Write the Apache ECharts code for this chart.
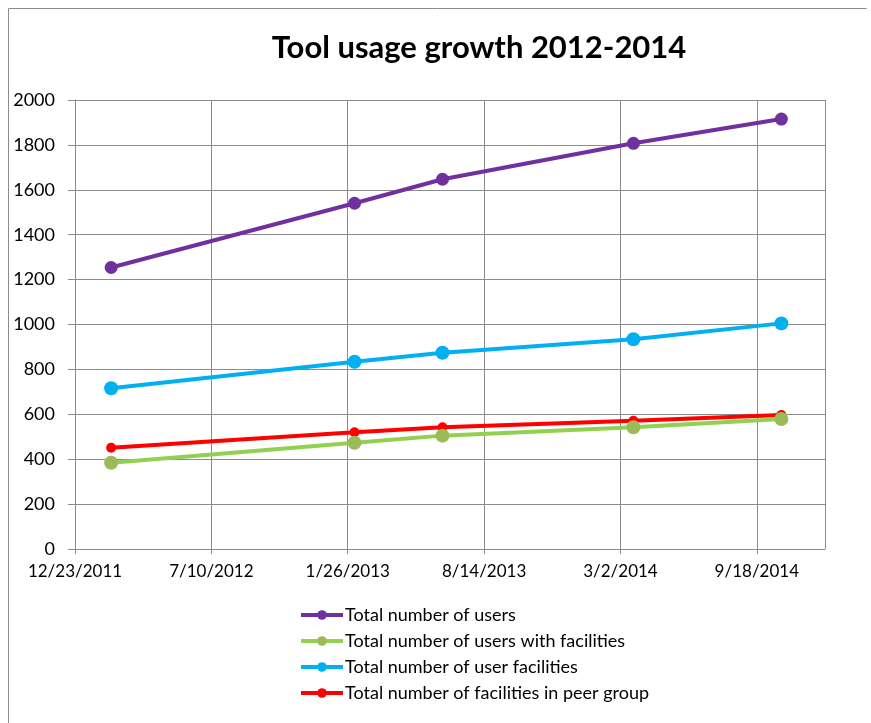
<!DOCTYPE html>
<html>
<head>
<meta charset="utf-8">
<script src="https://cdn.jsdelivr.net/npm/echarts@6/dist/echarts.min.js"></script>
<style>
html,body{margin:0;padding:0;background:#fff;}
#c{width:871px;height:723px;}
</style>
</head>
<body>
<div id="c"></div>
<script>
// ---- data ----
var title = 'Tool usage growth 2012-2014';
var axisStartDate = '2011-12-23';
var dates = ['2012-02-14', '2013-02-05', '2013-06-14', '2014-03-21', '2014-10-24'];
var seriesNames = [
  'Total number of users',
  'Total number of users with facilities',
  'Total number of user facilities',
  'Total number of facilities in peer group'
];
var totalUsers = [1254, 1540, 1647, 1807, 1915];
var usersWithFacilities = [384, 473, 505, 542, 579];
var userFacilities = [716, 834, 874, 934, 1005];
var facilitiesPeerGroup = [451, 520, 542, 571, 597];
var yTicks = { min: 0, max: 2000, interval: 200 };
var xTicksDays = { min: 0, max: 1100, interval: 200 };

// ---- helpers ----
var DAY = 86400000;
function toMs(s){ var p = s.split('-'); return Date.UTC(+p[0], +p[1]-1, +p[2]); }
var baseMs = toMs(axisStartDate);
function dayOffset(s){ return Math.round((toMs(s) - baseMs) / DAY); }
function fmtDate(off){
  var d = new Date(baseMs + off * DAY);
  return (d.getUTCMonth()+1) + '/' + d.getUTCDate() + '/' + d.getUTCFullYear();
}
function pairs(vals){ return dates.map(function(d,i){ return [dayOffset(d), vals[i]]; }); }

var FONT = 'Lato, "Open Sans", sans-serif';
var GRID = '#8c8c8c';

var styles = [
  {line:'#7030A0', marker:'#7030A0', size:13},
  {line:'#92D050', marker:'#9BBB59', size:14},
  {line:'#00B0F0', marker:'#00B0F0', size:14},
  {line:'#FF0000', marker:'#FF0000', size:10}
];
var values = [totalUsers, usersWithFacilities, userFacilities, facilitiesPeerGroup];

var series = values.map(function(v, i){
  return {
    name: seriesNames[i],
    type: 'line',
    data: pairs(v),
    symbol: 'circle',
    symbolSize: styles[i].size,
    lineStyle: {color: styles[i].line, width: 4},
    itemStyle: {color: styles[i].marker},
    emphasis: {disabled: true},
    z: 10 - i
  };
});

var chart = echarts.init(document.getElementById('c'), null, {renderer:'canvas'});
chart.setOption({
  animation: false,
  backgroundColor: '#fff',
  title: {
    text: title,
    left: 474, top: 27, textAlign: 'center',
    textStyle: {fontFamily: FONT, fontWeight: 'bold', fontSize: 31, color: '#000'}
  },
  graphic: [
    {type:'line', shape:{x1:8.5,y1:8.5,x2:866.5,y2:8.5}, style:{stroke:'#8c8c8c', lineWidth:1}},
    {type:'line', shape:{x1:8.5,y1:8.5,x2:8.5,y2:723}, style:{stroke:'#8c8c8c', lineWidth:1}}
  ],
  grid: {left: 75, top: 100, right: 46, bottom: 174, containLabel: false},
  legend: {
    orient: 'vertical',
    left: 294, top: 601,
    itemWidth: 42, itemHeight: 12,
    itemGap: 8,
    data: seriesNames.map(function(n, i){
      return {name: n, lineStyle: {color: styles[i].line, width: 4}, itemStyle: {color: styles[i].marker}};
    }),
    textStyle: {fontFamily: FONT, fontSize: 18, color: '#000', padding: [0,0,0,-3]},
    selectedMode: false
  },
  xAxis: {
    type: 'value',
    min: xTicksDays.min, max: xTicksDays.max, interval: xTicksDays.interval,
    axisLine: {show: true, onZero: false, lineStyle: {color: GRID, width: 1}},
    axisTick: {show: true, length: 5, lineStyle: {color: GRID}},
    splitLine: {show: true, lineStyle: {color: GRID, width: 1}},
    axisLabel: {
      fontFamily: FONT, fontSize: 17, color: '#000', margin: 14,
      showMaxLabel: false,
      formatter: function(v){ return v >= xTicksDays.max ? '' : fmtDate(v); }
    }
  },
  yAxis: {
    type: 'value',
    min: yTicks.min, max: yTicks.max, interval: yTicks.interval,
    axisLine: {show: true, lineStyle: {color: GRID, width: 1}},
    axisTick: {show: true, length: 7, lineStyle: {color: GRID}},
    splitLine: {show: true, lineStyle: {color: GRID, width: 1}},
    axisLabel: {fontFamily: FONT, fontSize: 18, color: '#000', margin: 20,
      formatter: function(v){ return String(v); }}
  },
  series: series
});
</script>
</body>
</html>
